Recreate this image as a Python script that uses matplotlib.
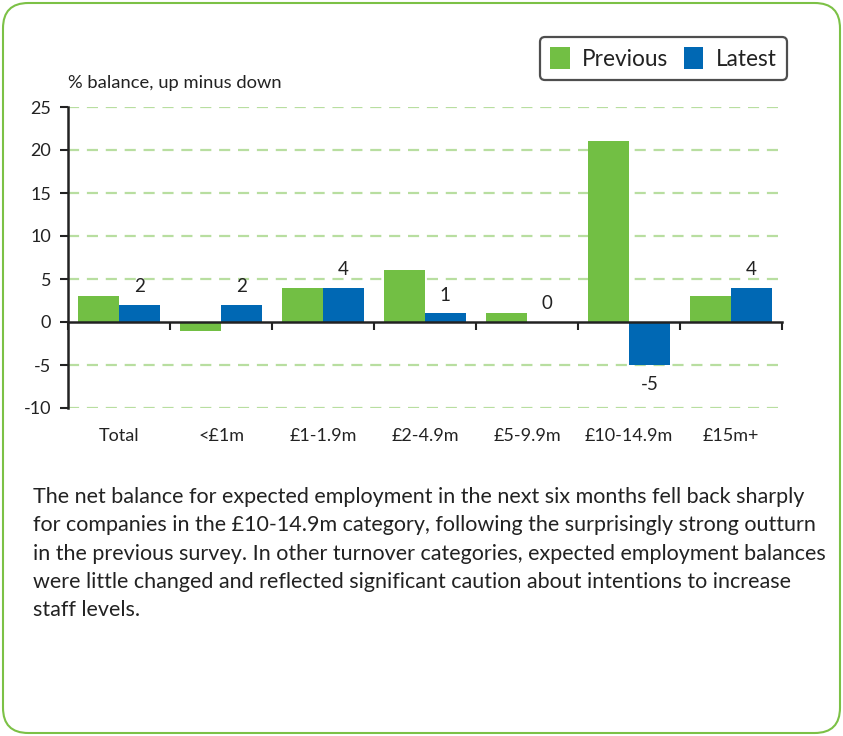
import matplotlib
matplotlib.use("Agg")
import matplotlib.pyplot as plt
from matplotlib.patches import FancyBboxPatch, Patch
import matplotlib.transforms as mtransforms
import numpy as np

categories = ["Total", "<£1m", "£1-1.9m", "£2-4.9m", "£5-9.9m", "£10-14.9m", "£15m+"]
previous = [3, -1, 4, 6, 1, 21, 3]
latest = [2, 2, 4, 1, 0, -5, 4]
yticks = [-10, -5, 0, 5, 10, 15, 20, 25]
ylabel_text = "% balance, up minus down"
paragraph = ("The net balance for expected employment in the next six months fell back sharply\n"
             "for companies in the £10-14.9m category, following the surprisingly strong outturn\n"
             "in the previous survey. In other turnover categories, expected employment balances\n"
             "were little changed and reflected significant caution about intentions to increase\n"
             "staff levels.")

GREEN = "#72bf44"
BLUE = "#0068b4"
GRID = "#b8dea0"
BORDER = "#7cc146"
FONT = ["Lato", "DejaVu Sans"]
plt.rcParams["font.family"] = FONT
plt.rcParams["text.color"] = "#222222"
plt.rcParams["axes.unicode_minus"] = False

W, H = 843, 736
fig = plt.figure(figsize=(W / 100, H / 100), dpi=100)

# rounded border
border = FancyBboxPatch((3 / W, 3 / H), (W - 6) / W, (H - 6) / H,
                        boxstyle="round,pad=0,rounding_size=0.03",
                        transform=fig.transFigure, facecolor="none",
                        edgecolor=BORDER, linewidth=1.5, mutation_aspect=W / H,
                        zorder=-1)
fig.patches.append(border)

left, right, top, bottom = 68, 782, 107, 408
ax = fig.add_axes([left / W, 1 - bottom / H, (right - left) / W, (bottom - top) / H])
ax.set_facecolor("none")

x = np.arange(len(categories))
bw = 0.4
ax.bar(x - bw / 2, previous, bw, color=GREEN, zorder=3)
ax.bar(x + bw / 2, latest, bw, color=BLUE, zorder=3)

ax.set_xlim(-0.5, len(categories) - 0.5)
ax.set_ylim(-10, 25)

# gridlines
for yv in yticks:
    if yv != 0:
        ax.axhline(yv, color=GRID, linewidth=1.6, linestyle=(0, (5, 3.5)), zorder=1)

for s in ["top", "right"]:
    ax.spines[s].set_visible(False)
ax.spines["bottom"].set_position(("data", 0))
ax.spines["bottom"].set_linewidth(1.8)
ax.spines["bottom"].set_color("#222222")
ax.spines["bottom"].set_zorder(4)
ax.spines["left"].set_linewidth(1.8)
ax.spines["left"].set_color("#222222")

ax.set_yticks(yticks)
ax.tick_params(axis="y", length=6, width=1.5, pad=6, labelsize=13, colors="#222222")
ax.set_xticks(np.arange(-0.5, len(categories), 1.0))
ax.set_xticklabels([])
ax.tick_params(axis="x", direction="out", length=6, width=1.5, colors="#222222")

trans = mtransforms.blended_transform_factory(ax.transData, ax.transAxes)
for xi, c in zip(x, categories):
    ax.text(xi, -28 / (bottom - top), c, transform=trans, ha="center", va="center",
            fontsize=13)

for xi, v in zip(x, latest):
    if v >= 0:
        ax.annotate(str(v), (xi + bw / 2, v), xytext=(0, 7), textcoords="offset points",
                    ha="center", va="bottom", fontsize=13.5)
    else:
        ax.annotate(str(v), (xi + bw / 2, v), xytext=(0, -8), textcoords="offset points",
                    ha="center", va="top", fontsize=13.5)

fig.text(left / W, 1 - 83 / H, ylabel_text, ha="left", va="center", fontsize=13.2)

handles = [Patch(facecolor=GREEN, label="Previous"), Patch(facecolor=BLUE, label="Latest")]
leg = fig.legend(handles=handles, loc="upper right", bbox_to_anchor=(787 / W, 1 - 37 / H),
                 ncol=2, fontsize=16.3, frameon=True, fancybox=True, handlelength=0.85,
                 handleheight=1.1, handletextpad=0.55, columnspacing=0.7,
                 borderpad=0.45, borderaxespad=0)
leg.get_frame().set_edgecolor("#222222")
leg.get_frame().set_linewidth(1.6)

fig.text(33 / W, 1 - 487 / H, paragraph, ha="left", va="top", fontsize=15.5,
         linespacing=1.52)

fig.savefig("out.png", dpi=100)
